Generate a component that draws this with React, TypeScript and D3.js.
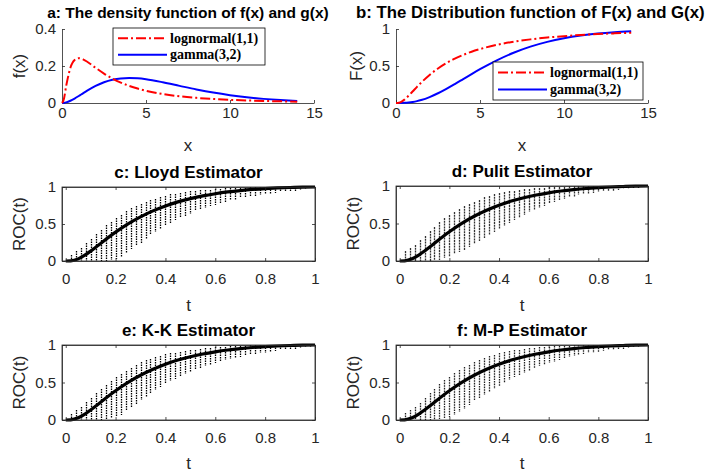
import React, { useEffect, useRef } from 'react';
import * as d3 from 'd3';

const xGrid = [0, 0.1, 0.25, 0.5, 0.75, 1, 1.25, 1.5, 2, 2.5, 3, 3.5, 4, 4.5, 5, 6, 7, 8, 9, 10, 11, 12, 13, 14];
const lognormalPdf = [0, 0.0171, 0.0926, 0.1904, 0.2322, 0.242, 0.236, 0.2229, 0.1903, 0.159, 0.1323, 0.1104, 0.0926, 0.0781, 0.0663, 0.0486, 0.0364, 0.0278, 0.0216, 0.0171, 0.0137, 0.011, 0.009, 0.0074];
const gammaPdf = [0, 0.0006, 0.0035, 0.0122, 0.0242, 0.0379, 0.0523, 0.0664, 0.092, 0.1119, 0.1255, 0.133, 0.1353, 0.1334, 0.1283, 0.112, 0.0925, 0.0733, 0.0562, 0.0421, 0.0309, 0.0223, 0.0159, 0.0112];
const lognormalCdf = [0, 0.0005, 0.0085, 0.0452, 0.0989, 0.1587, 0.2186, 0.2761, 0.3795, 0.4667, 0.5393, 0.5998, 0.6504, 0.6929, 0.7289, 0.7858, 0.8279, 0.8598, 0.8844, 0.9036, 0.9189, 0.9312, 0.9412, 0.9494];
const gammaCdf = [0, 0, 0.0003, 0.0022, 0.0066, 0.0144, 0.0256, 0.0405, 0.0803, 0.1315, 0.1912, 0.256, 0.3233, 0.3907, 0.4562, 0.5768, 0.6792, 0.7619, 0.8264, 0.8753, 0.9116, 0.938, 0.957, 0.9704];

// true ROC curve (thick black line)
const rocT = [0, 0.02, 0.05, 0.075, 0.1, 0.125, 0.15, 0.2, 0.25, 0.3, 0.35, 0.4, 0.45, 0.5, 0.55, 0.6, 0.65, 0.7, 0.75, 0.8, 0.85, 0.9, 0.95, 1];
const rocTrue = [0, 0.002, 0.029, 0.075, 0.134, 0.198, 0.264, 0.39, 0.502, 0.597, 0.677, 0.744, 0.799, 0.843, 0.88, 0.909, 0.933, 0.952, 0.967, 0.978, 0.987, 0.993, 0.998, 1];

// spread of the simulated estimates at each t (dotted vertical lines)
const bandT = [0.02, 0.04, 0.06, 0.08, 0.1, 0.12, 0.14, 0.16, 0.18, 0.2, 0.22, 0.24, 0.26, 0.28, 0.3, 0.32, 0.34, 0.36, 0.38, 0.4, 0.42, 0.44, 0.46, 0.48, 0.5, 0.52, 0.54, 0.56, 0.58, 0.6, 0.62, 0.64, 0.66, 0.68, 0.7, 0.72, 0.74, 0.76, 0.78, 0.8, 0.82, 0.84, 0.86, 0.88, 0.9, 0.92, 0.94, 0.96, 0.98];
const lloydLow = [0, 0, 0, 0, 0, 0, 0, 0, 0.01, 0.03, 0.06, 0.11, 0.16, 0.21, 0.25, 0.3, 0.35, 0.39, 0.43, 0.47, 0.51, 0.55, 0.58, 0.61, 0.64, 0.67, 0.7, 0.72, 0.74, 0.76, 0.78, 0.8, 0.82, 0.83, 0.85, 0.86, 0.87, 0.88, 0.89, 0.9, 0.91, 0.92, 0.93, 0.935, 0.94, 0.95, 0.96, 0.97, 0.98];
const lloydHigh = [0.08, 0.13, 0.18, 0.24, 0.3, 0.36, 0.42, 0.48, 0.53, 0.58, 0.62, 0.67, 0.71, 0.74, 0.77, 0.8, 0.82, 0.84, 0.86, 0.88, 0.9, 0.91, 0.92, 0.93, 0.94, 0.95, 0.955, 0.96, 0.965, 0.97, 0.975, 0.98, 0.985, 0.99, 0.99, 0.99, 0.995, 0.995, 1, 1, 1, 1, 1, 1, 1, 1, 1, 1, 1];
const pulitLow = [0, 0, 0, 0, 0, 0, 0.01, 0.02, 0.04, 0.06, 0.09, 0.12, 0.15, 0.19, 0.23, 0.27, 0.31, 0.35, 0.39, 0.43, 0.47, 0.51, 0.55, 0.58, 0.62, 0.65, 0.68, 0.71, 0.74, 0.77, 0.79, 0.81, 0.83, 0.85, 0.86, 0.88, 0.89, 0.9, 0.91, 0.92, 0.93, 0.935, 0.94, 0.95, 0.955, 0.96, 0.97, 0.98, 0.99];
const pulitHigh = [0.14, 0.18, 0.22, 0.28, 0.34, 0.4, 0.46, 0.52, 0.57, 0.61, 0.65, 0.69, 0.73, 0.76, 0.79, 0.82, 0.85, 0.87, 0.89, 0.91, 0.92, 0.93, 0.94, 0.95, 0.96, 0.965, 0.97, 0.975, 0.98, 0.985, 0.99, 0.99, 0.99, 0.995, 0.995, 1, 1, 1, 1, 1, 1, 1, 1, 1, 1, 1, 1, 1, 1];
const kkLow = [0, 0, 0, 0, 0, 0, 0, 0.01, 0.02, 0.04, 0.07, 0.12, 0.17, 0.22, 0.27, 0.31, 0.36, 0.4, 0.44, 0.48, 0.52, 0.55, 0.58, 0.61, 0.64, 0.67, 0.69, 0.72, 0.74, 0.76, 0.78, 0.8, 0.81, 0.83, 0.84, 0.86, 0.87, 0.88, 0.89, 0.9, 0.91, 0.92, 0.93, 0.94, 0.945, 0.95, 0.96, 0.97, 0.98];
const kkHigh = [0.08, 0.13, 0.18, 0.24, 0.3, 0.36, 0.42, 0.47, 0.52, 0.57, 0.62, 0.66, 0.7, 0.74, 0.77, 0.8, 0.82, 0.84, 0.86, 0.88, 0.89, 0.9, 0.91, 0.92, 0.93, 0.94, 0.95, 0.96, 0.965, 0.97, 0.975, 0.98, 0.985, 0.99, 0.99, 0.99, 0.995, 0.995, 1, 1, 1, 1, 1, 1, 1, 1, 1, 1, 1];
const mpLow = [0, 0, 0, 0, 0, 0, 0, 0.01, 0.02, 0.04, 0.07, 0.11, 0.15, 0.2, 0.25, 0.29, 0.34, 0.38, 0.42, 0.46, 0.5, 0.54, 0.57, 0.6, 0.63, 0.66, 0.69, 0.72, 0.74, 0.76, 0.78, 0.8, 0.82, 0.84, 0.85, 0.87, 0.88, 0.89, 0.9, 0.91, 0.92, 0.93, 0.94, 0.945, 0.95, 0.96, 0.97, 0.975, 0.985];
const mpHigh = [0.1, 0.13, 0.17, 0.23, 0.3, 0.36, 0.42, 0.48, 0.53, 0.58, 0.63, 0.67, 0.71, 0.74, 0.77, 0.8, 0.83, 0.85, 0.87, 0.89, 0.91, 0.92, 0.93, 0.94, 0.95, 0.96, 0.965, 0.97, 0.975, 0.98, 0.985, 0.99, 0.99, 0.99, 0.995, 0.995, 1, 1, 1, 1, 1, 1, 1, 1, 1, 1, 1, 1, 1];

// ticks
const densityXTicks = [0, 5, 10, 15];
const densityYTicks = [0, 0.2, 0.4];
const cdfYTicks = [0, 0.5, 1];
const rocXTicks = [0, 0.2, 0.4, 0.6, 0.8, 1];
const rocYTicks = [0, 0.5, 1];

const FONT = "'Liberation Sans', Arial, Helvetica, sans-serif";
const SERIF = "'Liberation Serif', 'Times New Roman', serif";
const AXIS = '#262626';

type Box = { left: number; right: number; top: number; bottom: number };
type G = d3.Selection<SVGGElement, unknown, null, undefined>;

function drawAxes(
  g: G,
  x: d3.ScaleLinear<number, number>,
  y: d3.ScaleLinear<number, number>,
  b: Box,
  xTicks: number[],
  yTicks: number[],
  boxed: boolean,
  xPad: number
) {
  const fmt = d3.format('~g');
  const style = (sel: any) => {
    sel.attr('color', AXIS).attr('font-family', FONT).attr('font-size', 15);
    sel.selectAll('text').attr('fill', AXIS);
    sel.selectAll('line').attr('stroke-width', 0.8);
    sel.select('.domain').attr('stroke-width', 0.8);
  };
  const ax = g.append('g').attr('transform', `translate(0,${b.bottom})`)
    .call(d3.axisBottom(x).tickValues(xTicks).tickFormat(fmt as any).tickSize(-3).tickSizeOuter(0).tickPadding(xPad));
  style(ax);
  const ay = g.append('g').attr('transform', `translate(${b.left},0)`)
    .call(d3.axisLeft(y).tickValues(yTicks).tickFormat(fmt as any).tickSize(-3).tickSizeOuter(0).tickPadding(6));
  style(ay);
  if (boxed) {
    const at = g.append('g').attr('transform', `translate(0,${b.top})`)
      .call(d3.axisTop(x).tickValues(xTicks).tickFormat(() => '').tickSize(-3).tickSizeOuter(0));
    style(at);
    const ar = g.append('g').attr('transform', `translate(${b.right},0)`)
      .call(d3.axisRight(y).tickValues(yTicks).tickFormat(() => '').tickSize(-3).tickSizeOuter(0));
    style(ar);
  }
}

function drawLabels(
  g: G,
  b: Box,
  title: { text: string; x: number; y: number; size: number; anchor: string },
  xLabel: string,
  xLabelY: number,
  yLabel: string,
  yLabelX: number
) {
  g.append('text').attr('x', title.x).attr('y', title.y).attr('text-anchor', title.anchor)
    .attr('font-family', FONT).attr('font-size', title.size).attr('font-weight', 'bold').attr('fill', '#000')
    .text(title.text);
  g.append('text').attr('x', (b.left + b.right) / 2).attr('y', xLabelY).attr('text-anchor', 'middle')
    .attr('dominant-baseline', 'central')
    .attr('font-family', FONT).attr('font-size', 17).attr('fill', AXIS).text(xLabel);
  g.append('text')
    .attr('transform', `translate(${yLabelX},${(b.top + b.bottom) / 2}) rotate(-90)`)
    .attr('text-anchor', 'middle').attr('dominant-baseline', 'central')
    .attr('font-family', FONT).attr('font-size', 17).attr('fill', AXIS).text(yLabel);
}

function drawLegend(g: G, x0: number, y0: number, w: number, h: number) {
  const items = [
    { label: 'lognormal(1,1)', color: '#ff0000', dash: '10 3 2 3' },
    { label: 'gamma(3,2)', color: '#0000ff', dash: null },
  ];
  const lg = g.append('g');
  lg.append('rect').attr('x', x0).attr('y', y0).attr('width', w).attr('height', h)
    .attr('fill', '#fff').attr('stroke', '#000').attr('stroke-width', 0.8);
  const rowH = h / 2;
  items.forEach((it, i) => {
    const cy = y0 + rowH * (i + 0.5) + (i === 0 ? 1 : -1);
    lg.append('line').attr('x1', x0 + 5).attr('x2', x0 + 54).attr('y1', cy).attr('y2', cy)
      .attr('stroke', it.color).attr('stroke-width', 2)
      .attr('stroke-dasharray', it.dash);
    lg.append('text').attr('x', x0 + 57).attr('y', cy).attr('dominant-baseline', 'central')
      .attr('font-family', SERIF).attr('font-weight', 'bold').attr('font-size', 14).attr('fill', '#000')
      .text(it.label);
  });
}

const App: React.FC = () => {
  const ref = useRef<SVGSVGElement | null>(null);

  useEffect(() => {
    if (!ref.current) return;
    const svg = d3.select(ref.current);
    svg.selectAll('*').remove();
    const root = svg.append('g') as G;

    const curve = (x: d3.ScaleLinear<number, number>, y: d3.ScaleLinear<number, number>) =>
      d3.line<number>().x((_, i) => x(xGrid[i])).y(d => y(d)).curve(d3.curveMonotoneX);

    // a: densities
    {
      const b = { left: 62, right: 314, top: 29, bottom: 103 };
      const x = d3.scaleLinear().domain([0, 15]).range([b.left, b.right]);
      const y = d3.scaleLinear().domain([0, 0.4]).range([b.bottom, b.top]);
      const g = root.append('g');
      drawAxes(g, x, y, b, densityXTicks, densityYTicks, false, 4);
      g.append('path').datum(gammaPdf).attr('d', curve(x, y)).attr('fill', 'none')
        .attr('stroke', '#0000ff').attr('stroke-width', 2);
      g.append('path').datum(lognormalPdf).attr('d', curve(x, y)).attr('fill', 'none')
        .attr('stroke', '#ff0000').attr('stroke-width', 2).attr('stroke-dasharray', '10 3 2 3');
      drawLegend(g, 113, 28, 152, 37);
      drawLabels(g, b, { text: 'a: The density function of f(x) and g(x)', x: 188, y: 18, size: 15.5, anchor: 'middle' },
        'x', 145, 'f(x)', 19);
    }

    // b: distribution functions
    {
      const b = { left: 396, right: 648, top: 29, bottom: 103 };
      const x = d3.scaleLinear().domain([0, 15]).range([b.left, b.right]);
      const y = d3.scaleLinear().domain([0, 1]).range([b.bottom, b.top]);
      const g = root.append('g');
      drawAxes(g, x, y, b, densityXTicks, cdfYTicks, false, 4);
      g.append('path').datum(gammaCdf).attr('d', curve(x, y)).attr('fill', 'none')
        .attr('stroke', '#0000ff').attr('stroke-width', 2);
      g.append('path').datum(lognormalCdf).attr('d', curve(x, y)).attr('fill', 'none')
        .attr('stroke', '#ff0000').attr('stroke-width', 2).attr('stroke-dasharray', '10 3 2 3');
      drawLegend(g, 493, 62, 150, 38);
      drawLabels(g, b, { text: 'b: The Distribution function of F(x) and G(x)', x: 356, y: 18, size: 16.8, anchor: 'start' },
        'x', 145, 'F(x)', 356);
    }

    // c-f: ROC estimators
    const rocPanels = [
      { b: { left: 62, right: 315, top: 187, bottom: 261 }, title: 'c: Lloyd Estimator', low: lloydLow, high: lloydHigh, color: '#000', dash: '1.5 1', xl: 305, yl: 19 },
      { b: { left: 396, right: 648, top: 186, bottom: 261 }, title: 'd: Pulit Estimator', low: pulitLow, high: pulitHigh, color: '#333', dash: '2 0.8', xl: 305, yl: 353 },
      { b: { left: 62, right: 315, top: 345, bottom: 420 }, title: 'e: K-K Estimator', low: kkLow, high: kkHigh, color: '#000', dash: '1.5 1', xl: 463, yl: 19 },
      { b: { left: 396, right: 648, top: 345, bottom: 420 }, title: 'f: M-P Estimator', low: mpLow, high: mpHigh, color: '#222', dash: '1.6 1', xl: 463, yl: 353 },
    ];
    rocPanels.forEach(p => {
      const b = p.b;
      const x = d3.scaleLinear().domain([-0.015, 1]).range([b.left, b.right]);
      const y = d3.scaleLinear().domain([0, 1]).range([b.bottom, b.top]);
      const g = root.append('g');
      const n = Math.min(bandT.length, p.low.length, p.high.length);
      g.append('g')
        .selectAll('line').data(bandT.slice(0, n)).join('line')
        .attr('x1', t => Math.round(x(t)) + 0.5).attr('x2', t => Math.round(x(t)) + 0.5)
        .attr('y1', (_, i) => Math.round(y(p.high[i]))).attr('y2', (_, i) => Math.round(y(p.low[i])))
        .attr('stroke', p.color).attr('stroke-width', 1.3).attr('stroke-dasharray', p.dash);
      g.append('path').datum(rocTrue)
        .attr('d', d3.line<number>().x((_, i) => x(rocT[i])).y(d => y(d)).curve(d3.curveMonotoneX))
        .attr('fill', 'none').attr('stroke', '#000').attr('stroke-width', 3.2);
      g.append('rect').attr('x', b.left).attr('y', b.top).attr('width', b.right - b.left).attr('height', b.bottom - b.top)
        .attr('fill', 'none').attr('stroke', AXIS).attr('stroke-width', 0.8);
      drawAxes(g, x, y, b, rocXTicks, rocYTicks, true, 12);
      drawLabels(g, b, { text: p.title, x: (b.left + b.right) / 2, y: b.top - 9, size: 17, anchor: 'middle' },
        't', p.xl, 'ROC(t)', p.yl);
    });
  }, []);

  return (
    <svg ref={ref} width={721} height={474} style={{ position: 'absolute', left: 0, top: 0, background: '#fff' }} />
  );
};

export default App;
